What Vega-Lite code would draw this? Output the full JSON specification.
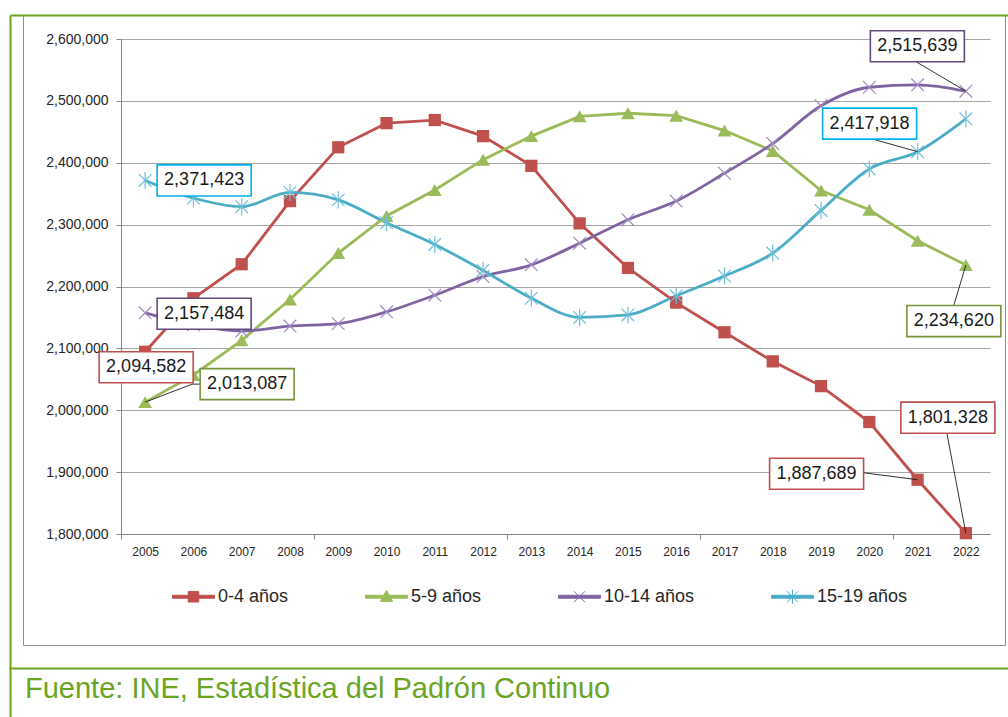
{
  "$schema": "https://vega.github.io/schema/vega-lite/v6.json",
  "width": 869,
  "height": 495,
  "autosize": {"type": "none"},
  "padding": {"left": 121, "top": 39, "right": 18, "bottom": 183},
  "background": "white",
  "config": {"view": {"stroke": null}, "font": "Liberation Sans"},
  "title": {
    "text": "Fuente: INE, Estadística del Padrón Continuo",
    "orient": "bottom", "anchor": "start", "frame": "group",
    "offset": 0, "dx": -96, "dy": -43, "baseline": "alphabetic",
    "fontSize": 29, "fontWeight": "normal", "font": "Liberation Sans", "color": "#6BA51F"
  },
  "data": {"values": [
    {"year": "2005", "serie": "0-4 años", "value": 2094582},
    {"year": "2006", "serie": "0-4 años", "value": 2181000},
    {"year": "2007", "serie": "0-4 años", "value": 2236000},
    {"year": "2008", "serie": "0-4 años", "value": 2338000},
    {"year": "2009", "serie": "0-4 años", "value": 2425000},
    {"year": "2010", "serie": "0-4 años", "value": 2464000},
    {"year": "2011", "serie": "0-4 años", "value": 2469000},
    {"year": "2012", "serie": "0-4 años", "value": 2443000},
    {"year": "2013", "serie": "0-4 años", "value": 2395000},
    {"year": "2014", "serie": "0-4 años", "value": 2302000},
    {"year": "2015", "serie": "0-4 años", "value": 2230000},
    {"year": "2016", "serie": "0-4 años", "value": 2174000},
    {"year": "2017", "serie": "0-4 años", "value": 2126000},
    {"year": "2018", "serie": "0-4 años", "value": 2079000},
    {"year": "2019", "serie": "0-4 años", "value": 2039000},
    {"year": "2020", "serie": "0-4 años", "value": 1981000},
    {"year": "2021", "serie": "0-4 años", "value": 1887689},
    {"year": "2022", "serie": "0-4 años", "value": 1801328},
    {"year": "2005", "serie": "5-9 años", "value": 2013087},
    {"year": "2006", "serie": "5-9 años", "value": 2057000},
    {"year": "2007", "serie": "5-9 años", "value": 2113000},
    {"year": "2008", "serie": "5-9 años", "value": 2179000},
    {"year": "2009", "serie": "5-9 años", "value": 2254000},
    {"year": "2010", "serie": "5-9 años", "value": 2314000},
    {"year": "2011", "serie": "5-9 años", "value": 2356000},
    {"year": "2012", "serie": "5-9 años", "value": 2405000},
    {"year": "2013", "serie": "5-9 años", "value": 2443000},
    {"year": "2014", "serie": "5-9 años", "value": 2475000},
    {"year": "2015", "serie": "5-9 años", "value": 2480000},
    {"year": "2016", "serie": "5-9 años", "value": 2476000},
    {"year": "2017", "serie": "5-9 años", "value": 2452000},
    {"year": "2018", "serie": "5-9 años", "value": 2419000},
    {"year": "2019", "serie": "5-9 años", "value": 2355000},
    {"year": "2020", "serie": "5-9 años", "value": 2324000},
    {"year": "2021", "serie": "5-9 años", "value": 2274000},
    {"year": "2022", "serie": "5-9 años", "value": 2234620},
    {"year": "2005", "serie": "10-14 años", "value": 2157484},
    {"year": "2006", "serie": "10-14 años", "value": 2138000},
    {"year": "2007", "serie": "10-14 años", "value": 2128000},
    {"year": "2008", "serie": "10-14 años", "value": 2136000},
    {"year": "2009", "serie": "10-14 años", "value": 2140000},
    {"year": "2010", "serie": "10-14 años", "value": 2159000},
    {"year": "2011", "serie": "10-14 años", "value": 2186000},
    {"year": "2012", "serie": "10-14 años", "value": 2216000},
    {"year": "2013", "serie": "10-14 años", "value": 2235000},
    {"year": "2014", "serie": "10-14 años", "value": 2270000},
    {"year": "2015", "serie": "10-14 años", "value": 2308000},
    {"year": "2016", "serie": "10-14 años", "value": 2338000},
    {"year": "2017", "serie": "10-14 años", "value": 2383000},
    {"year": "2018", "serie": "10-14 años", "value": 2431000},
    {"year": "2019", "serie": "10-14 años", "value": 2492000},
    {"year": "2020", "serie": "10-14 años", "value": 2522000},
    {"year": "2021", "serie": "10-14 años", "value": 2526000},
    {"year": "2022", "serie": "10-14 años", "value": 2515639},
    {"year": "2005", "serie": "15-19 años", "value": 2371423},
    {"year": "2006", "serie": "15-19 años", "value": 2343000},
    {"year": "2007", "serie": "15-19 años", "value": 2329000},
    {"year": "2008", "serie": "15-19 años", "value": 2352000},
    {"year": "2009", "serie": "15-19 años", "value": 2340000},
    {"year": "2010", "serie": "15-19 años", "value": 2303000},
    {"year": "2011", "serie": "15-19 años", "value": 2268000},
    {"year": "2012", "serie": "15-19 años", "value": 2226000},
    {"year": "2013", "serie": "15-19 años", "value": 2181000},
    {"year": "2014", "serie": "15-19 años", "value": 2150000},
    {"year": "2015", "serie": "15-19 años", "value": 2154000},
    {"year": "2016", "serie": "15-19 años", "value": 2185000},
    {"year": "2017", "serie": "15-19 años", "value": 2217000},
    {"year": "2018", "serie": "15-19 años", "value": 2254000},
    {"year": "2019", "serie": "15-19 años", "value": 2323000},
    {"year": "2020", "serie": "15-19 años", "value": 2390000},
    {"year": "2021", "serie": "15-19 años", "value": 2417918},
    {"year": "2022", "serie": "15-19 años", "value": 2471000}
  ]},
  "resolve": {
    "scale": {"x": "independent", "y": "independent"},
    "axis": {"x": "independent", "y": "independent"}
  },
  "layer": [
    {
      "data": {"values": [{"k": 0}]},
      "mark": {"type": "point", "opacity": 0},
      "encoding": {
        "x": {"datum": 0, "type": "quantitative", "scale": {"domain": [0, 1], "range": [-98, 884], "nice": false, "zero": false},
              "axis": {"orient": "bottom", "offset": 111, "domain": true, "domainColor": "#8C8C8C", "domainWidth": 1, "ticks": false, "labels": false, "grid": false, "title": null}},
        "y": {"datum": 0, "type": "quantitative", "scale": {"domain": [0, 1], "range": [606, -24], "nice": false, "zero": false},
              "axis": {"orient": "left", "offset": 98, "domain": true, "domainColor": "#8C8C8C", "domainWidth": 1, "ticks": false, "labels": false, "grid": false, "title": null}}
      }
    },
    {
      "data": {"values": [{"k": 0}]},
      "mark": {"type": "point", "opacity": 0},
      "encoding": {
        "x": {"datum": 0, "type": "quantitative", "scale": {"domain": [0, 1], "range": [-111, 900], "nice": false, "zero": false},
              "axis": {"orient": "top", "offset": 24, "domain": true, "domainColor": "#6BA51F", "domainWidth": 2, "ticks": false, "labels": false, "grid": false, "title": null}},
        "y": {"datum": 0, "type": "quantitative", "scale": {"domain": [0, 1], "range": [606, -24], "nice": false, "zero": false},
              "axis": {"orient": "right", "offset": 15, "domain": true, "domainColor": "#8C8C8C", "domainWidth": 1, "ticks": false, "labels": false, "grid": false, "title": null}}
      }
    },
    {
      "data": {"values": [{"k": 0}]},
      "mark": {"type": "point", "opacity": 0},
      "encoding": {
        "x": {"datum": 0, "type": "quantitative", "scale": {"domain": [0, 1], "range": [-111, 900], "nice": false, "zero": false},
              "axis": {"orient": "bottom", "offset": 134, "domain": true, "domainColor": "#6BA51F", "domainWidth": 2, "ticks": false, "labels": false, "grid": false, "title": null}},
        "y": {"datum": 0, "type": "quantitative", "scale": {"domain": [0, 1], "range": [678, -24], "nice": false, "zero": false},
              "axis": {"orient": "left", "offset": 111, "domain": true, "domainColor": "#6BA51F", "domainWidth": 2, "ticks": false, "labels": false, "grid": false, "title": null}}
      }
    },
    {
      "data": {"values": [{"k": 0}]},
      "mark": {"type": "point", "opacity": 0},
      "encoding": {
        "x": {"datum": 0, "type": "quantitative", "scale": {"domain": [0, 18], "range": [0, 869], "nice": false, "zero": false},
              "axis": {"orient": "bottom", "offset": 0, "values": [0, 4, 8, 12, 16], "domain": false, "ticks": true, "tickSize": 5, "tickColor": "#868686", "labels": false, "grid": false, "title": null}}
      }
    },
    {
      "encoding": {
        "x": {"field": "year", "type": "ordinal", "scale": {"type": "point", "padding": 0.5},
              "axis": {"orient": "bottom", "title": null, "labelAngle": 0, "ticks": false, "tickSize": 0, "labelPadding": 12, "domainColor": "#868686", "labelFontSize": 12, "labelColor": "#262626", "labelFont": "Liberation Sans", "grid": false}},
        "y": {"field": "value", "type": "quantitative", "scale": {"domain": [1800000, 2600000], "nice": false, "zero": false},
              "axis": {"orient": "left", "title": null, "labelExpr": "format(datum.value, ',')", "values": [1800000, 1900000, 2000000, 2100000, 2200000, 2300000, 2400000, 2500000, 2600000],
                       "grid": true, "gridColor": "#A6A6A6", "domainColor": "#868686", "tickColor": "#868686", "tickSize": 5,
                       "labelFontSize": 14, "labelColor": "#262626", "labelPadding": 8, "labelFont": "Liberation Sans"}}
      },
      "layer": [
        {
          "transform": [{"filter": "datum.serie === '0-4 años' || datum.serie === '5-9 años'"}],
          "mark": {"type": "line", "strokeWidth": 2.8, "interpolate": "linear"},
          "encoding": {
            "color": {"field": "serie", "type": "nominal",
              "scale": {"domain": ["0-4 años", "5-9 años", "10-14 años", "15-19 años"], "range": ["#C0504D", "#9BBB59", "#8064A2", "#4BACC6"]},
              "legend": {
                "orient": "none", "legendX": 51, "legendY": 536, "direction": "horizontal", "columns": 4,
                "title": null, "padding": 0, "columnPadding": 74, "labelOffset": 3,
                "labelFontSize": 18, "labelFont": "Liberation Sans", "labelColor": "#262626",
                "symbolSize": 1764, "symbolStrokeWidth": 1,
                "encode": {"symbols": {"update": {
                  "shape": {"signal": "datum.value === '0-4 años' ? 'M-1,-0.07H1V0.07H-1ZM-0.25,-0.25H0.25V0.25H-0.25Z' : datum.value === '5-9 años' ? 'M-1,-0.07H1V0.07H-1ZM0,-0.3L0.29,0.22H-0.29Z' : datum.value === '10-14 años' ? 'M-1,-0.07H1V0.07H-1ZM-0.26,-0.26L0.26,0.26M-0.26,0.26L0.26,-0.26' : 'M-1,-0.07H1V0.07H-1ZM-0.26,-0.26L0.26,0.26M-0.26,0.26L0.26,-0.26M0,-0.33V0.33'"},
                  "fill": {"scale": "color", "field": "value"},
                  "stroke": {"scale": "color", "field": "value"},
                  "strokeWidth": {"value": 1},
                  "opacity": {"value": 1}
                }}}
              }}
          }
        },
        {
          "transform": [{"filter": "datum.serie === '10-14 años' || datum.serie === '15-19 años'"}],
          "mark": {"type": "line", "strokeWidth": 2.8, "interpolate": "monotone"},
          "encoding": {
            "color": {"field": "serie", "type": "nominal",
              "scale": {"domain": ["0-4 años", "5-9 años", "10-14 años", "15-19 años"], "range": ["#C0504D", "#9BBB59", "#8064A2", "#4BACC6"]},
              "legend": null}
          }
        },
        {
          "transform": [{"filter": "datum.serie === '0-4 años'"}],
          "mark": {"type": "point", "shape": "square", "size": 150, "filled": true, "color": "#C0504D", "opacity": 1}
        },
        {
          "transform": [{"filter": "datum.serie === '5-9 años'"}],
          "mark": {"type": "point", "shape": "triangle-up", "size": 190, "filled": true, "color": "#9BBB59", "opacity": 1}
        },
        {
          "transform": [{"filter": "datum.serie === '10-14 años'"}],
          "mark": {"type": "point", "shape": "M-1,-1L1,1M-1,1L1,-1", "size": 160, "filled": false, "color": "#A08CC4", "strokeWidth": 1.2, "opacity": 1}
        },
        {
          "transform": [{"filter": "datum.serie === '15-19 años'"}],
          "mark": {"type": "point", "shape": "M-1,-1L1,1M-1,1L1,-1M0,-1.35V1.35", "size": 160, "filled": false, "color": "#6FC0D8", "strokeWidth": 1.2, "opacity": 1}
        },
        {
          "transform": [{"filter": "datum.serie === '15-19 años' && datum.year === '2005'"}],
          "layer": [
            {"mark": {"type": "point", "shape": "M-1,-0.33H1V0.33H-1Z", "size": 8836, "filled": true, "fill": "white", "stroke": "#00B0F0", "strokeWidth": 1.6, "opacity": 1, "xOffset": 59, "yOffset": 0}},
            {"mark": {"type": "text", "dx": 59, "dy": 0, "fontSize": 18, "font": "Liberation Sans", "color": "#1A1A1A", "align": "center", "baseline": "middle"}, "encoding": {"text": {"field": "value", "format": ","}}}
          ]
        },
        {
          "transform": [{"filter": "datum.serie === '10-14 años' && datum.year === '2005'"}],
          "layer": [
            {"mark": {"type": "point", "shape": "M-1,-0.33H1V0.33H-1Z", "size": 8836, "filled": true, "fill": "white", "stroke": "#604A7B", "strokeWidth": 1.6, "opacity": 1, "xOffset": 59, "yOffset": 1}},
            {"mark": {"type": "text", "dx": 59, "dy": 1, "fontSize": 18, "font": "Liberation Sans", "color": "#1A1A1A", "align": "center", "baseline": "middle"}, "encoding": {"text": {"field": "value", "format": ","}}}
          ]
        },
        {
          "transform": [{"filter": "datum.serie === '0-4 años' && datum.year === '2005'"}],
          "layer": [
            {"mark": {"type": "point", "shape": "M-1,-0.33H1V0.33H-1Z", "size": 8836, "filled": true, "fill": "white", "stroke": "#C0504D", "strokeWidth": 1.6, "opacity": 1, "xOffset": 1, "yOffset": 15.5}},
            {"mark": {"type": "text", "dx": 1, "dy": 15.5, "fontSize": 18, "font": "Liberation Sans", "color": "#1A1A1A", "align": "center", "baseline": "middle"}, "encoding": {"text": {"field": "value", "format": ","}}}
          ]
        },
        {
          "transform": [{"filter": "datum.serie === '5-9 años' && datum.year === '2005'"}],
          "layer": [
            {"mark": {"type": "point", "shape": "M0,0L47,-18H55", "size": 4, "filled": false, "stroke": "#1A1A1A", "strokeWidth": 0.9, "opacity": 1}},
            {"mark": {"type": "point", "shape": "M-1,-0.33H1V0.33H-1Z", "size": 8836, "filled": true, "fill": "white", "stroke": "#77933C", "strokeWidth": 1.6, "opacity": 1, "xOffset": 102, "yOffset": -18}},
            {"mark": {"type": "text", "dx": 102, "dy": -18, "fontSize": 18, "font": "Liberation Sans", "color": "#1A1A1A", "align": "center", "baseline": "middle"}, "encoding": {"text": {"field": "value", "format": ","}}}
          ]
        },
        {
          "transform": [{"filter": "datum.serie === '10-14 años' && datum.year === '2022'"}],
          "layer": [
            {"mark": {"type": "point", "shape": "M0,0L-49,-29", "size": 4, "filled": false, "stroke": "#1A1A1A", "strokeWidth": 0.9, "opacity": 1}},
            {"mark": {"type": "point", "shape": "M-1,-0.33H1V0.33H-1Z", "size": 8836, "filled": true, "fill": "white", "stroke": "#604A7B", "strokeWidth": 1.6, "opacity": 1, "xOffset": -48.5, "yOffset": -45}},
            {"mark": {"type": "text", "dx": -48.5, "dy": -45, "fontSize": 18, "font": "Liberation Sans", "color": "#1A1A1A", "align": "center", "baseline": "middle"}, "encoding": {"text": {"field": "value", "format": ","}}}
          ]
        },
        {
          "transform": [{"filter": "datum.serie === '15-19 años' && datum.year === '2021'"}],
          "layer": [
            {"mark": {"type": "point", "shape": "M0,0L-43,-12", "size": 4, "filled": false, "stroke": "#1A1A1A", "strokeWidth": 0.9, "opacity": 1}},
            {"mark": {"type": "point", "shape": "M-1,-0.33H1V0.33H-1Z", "size": 8836, "filled": true, "fill": "white", "stroke": "#00B0F0", "strokeWidth": 1.6, "opacity": 1, "xOffset": -48, "yOffset": -28}},
            {"mark": {"type": "text", "dx": -48, "dy": -28, "fontSize": 18, "font": "Liberation Sans", "color": "#1A1A1A", "align": "center", "baseline": "middle"}, "encoding": {"text": {"field": "value", "format": ","}}}
          ]
        },
        {
          "transform": [{"filter": "datum.serie === '5-9 años' && datum.year === '2022'"}],
          "layer": [
            {"mark": {"type": "point", "shape": "M0,0L-12,40", "size": 4, "filled": false, "stroke": "#1A1A1A", "strokeWidth": 0.9, "opacity": 1}},
            {"mark": {"type": "point", "shape": "M-1,-0.33H1V0.33H-1Z", "size": 8836, "filled": true, "fill": "white", "stroke": "#77933C", "strokeWidth": 1.6, "opacity": 1, "xOffset": -12, "yOffset": 56}},
            {"mark": {"type": "text", "dx": -12, "dy": 56, "fontSize": 18, "font": "Liberation Sans", "color": "#1A1A1A", "align": "center", "baseline": "middle"}, "encoding": {"text": {"field": "value", "format": ","}}}
          ]
        },
        {
          "transform": [{"filter": "datum.serie === '0-4 años' && datum.year === '2022'"}],
          "layer": [
            {"mark": {"type": "point", "shape": "M0,0L-19,-100", "size": 4, "filled": false, "stroke": "#1A1A1A", "strokeWidth": 0.9, "opacity": 1}},
            {"mark": {"type": "point", "shape": "M-1,-0.33H1V0.33H-1Z", "size": 8836, "filled": true, "fill": "white", "stroke": "#C0504D", "strokeWidth": 1.6, "opacity": 1, "xOffset": -18, "yOffset": -115.5}},
            {"mark": {"type": "text", "dx": -18, "dy": -115.5, "fontSize": 18, "font": "Liberation Sans", "color": "#1A1A1A", "align": "center", "baseline": "middle"}, "encoding": {"text": {"field": "value", "format": ","}}}
          ]
        },
        {
          "transform": [{"filter": "datum.serie === '0-4 años' && datum.year === '2021'"}],
          "layer": [
            {"mark": {"type": "point", "shape": "M0,0L-54,-7", "size": 4, "filled": false, "stroke": "#1A1A1A", "strokeWidth": 0.9, "opacity": 1}},
            {"mark": {"type": "point", "shape": "M-1,-0.33H1V0.33H-1Z", "size": 8836, "filled": true, "fill": "white", "stroke": "#C0504D", "strokeWidth": 1.6, "opacity": 1, "xOffset": -101, "yOffset": -6}},
            {"mark": {"type": "text", "dx": -101, "dy": -6, "fontSize": 18, "font": "Liberation Sans", "color": "#1A1A1A", "align": "center", "baseline": "middle"}, "encoding": {"text": {"field": "value", "format": ","}}}
          ]
        }
      ]
    }
  ]
}
